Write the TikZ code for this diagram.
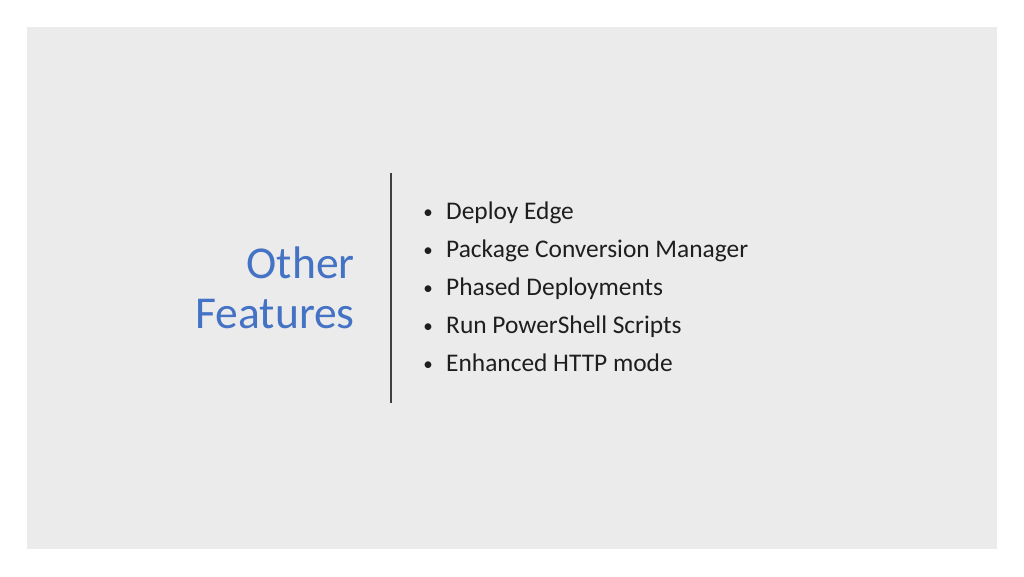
\documentclass[tikz,border=0pt]{standalone}
\usepackage{fontspec}
\setmainfont{Carlito}
\usetikzlibrary{calc,math}
\definecolor{slidegray}{RGB}{235,235,235}
\definecolor{titleblue}{RGB}{68,114,196}
\definecolor{bodytext}{RGB}{30,30,30}
\definecolor{rulegray}{RGB}{64,64,64}

\begin{document}
\begin{tikzpicture}
[x=1pt,y=-1pt,item/.style={anchor=base west,inner sep=0pt,text=bodytext,font=\fontsize{25.4}{30}\selectfont},
dot/.style={anchor=base,inner sep=0pt,text=bodytext,font=\fontsize{19}{30}\selectfont},]

%Slide frame and background
\useasboundingbox (0,0) rectangle (1024,576);
\fill[white] (0,0) rectangle (1024,576);
\fill[slidegray] (27,27) rectangle (997,549);

%Baseline of first item and line spacing
\tikzmath{\y1 = 219; \s = 38.2; \xb = 428; \xt = 446; }
%
%Title, two lines right aligned
\node (T1) at (355,278)[anchor=base east,inner sep=0pt,text=titleblue,font=\fontsize{45.6}{50}\selectfont] {Other};
\node (T2) at (355,328)[anchor=base east,inner sep=0pt,text=titleblue,font=\fontsize{45.6}{50}\selectfont] {Features};

%Divider
\coordinate (L1) at (391,173);
\coordinate (L2) at (391,403);
\draw[rulegray,line width=1.3pt] (L1) -- (L2);

%Items
\node (b1) at (\xb,\y1-1)[dot] {\textbullet};
\node (i1) at (\xt,\y1)[item] {Deploy Edge};
\node (b2) at (\xb,\y1+\s-1)[dot] {\textbullet};
\node (i2) at (\xt,\y1+\s)[item] {Package Conversion Manager};
\node (b3) at (\xb,\y1+2*\s-1)[dot] {\textbullet};
\node (i3) at (\xt,\y1+2*\s)[item] {Phased Deployments};
\node (b4) at (\xb,\y1+3*\s-1)[dot] {\textbullet};
\node (i4) at (\xt,\y1+3*\s)[item] {Run PowerShell Scripts};
\node (b5) at (\xb,\y1+4*\s-1)[dot] {\textbullet};
\node (i5) at (\xt,\y1+4*\s)[item] {Enhanced HTTP mode};

\end{tikzpicture}
\end{document}
